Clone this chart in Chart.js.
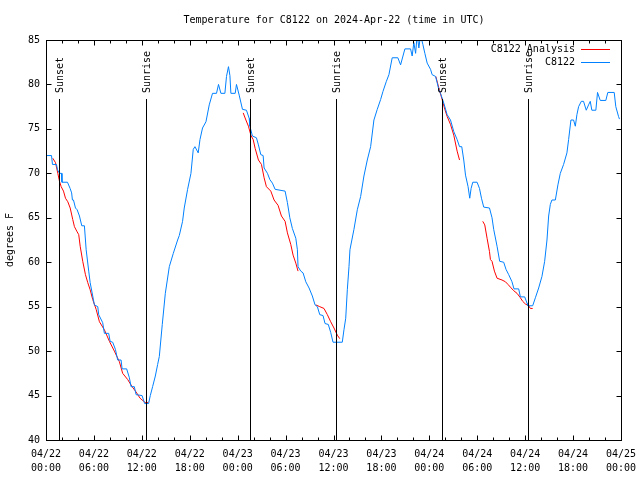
<!DOCTYPE html>
<html>
<head>
<meta charset="utf-8">
<script src="https://cdn.jsdelivr.net/npm/chart.js@4.4.1/dist/chart.umd.min.js"></script>
<style>
html,body{margin:0;padding:0;background:#fff;}
#wrap{width:640px;height:480px;position:relative;}
</style>
</head>
<body>
<div id="wrap"><canvas id="c" width="640" height="480"></canvas></div>
<script>
// ---------- data ----------
const titleText = "Temperature for C8122 on 2024-Apr-22 (time in UTC)";
const yAxisLabel = "degrees F";
const seriesNames = ["C8122 Analysis", "C8122"];
const xTickDates = ["04/22","04/22","04/22","04/22","04/23","04/23","04/23","04/23","04/24","04/24","04/24","04/24","04/25"];
const xTickTimes = ["00:00","06:00","12:00","18:00","00:00","06:00","12:00","18:00","00:00","06:00","12:00","18:00","00:00"];
const yTicks = [40,45,50,55,60,65,70,75,80,85];

// hours since 04/22 00:00 UTC
const obsHours = [0.06,0.69,0.81,1.31,1.44,1.69,1.94,2.0,2.69,3.02,3.21,3.31,3.44,3.69,3.9,4.19,4.48,4.81,5.03,5.35,5.53,5.85,6.06,6.48,6.6,7.1,7.31,7.85,8.03,8.35,8.69,8.98,9.4,9.53,10.1,10.44,10.65,11.06,11.28,12.03,12.35,12.85,13.06,13.35,13.69,13.98,14.19,14.56,14.94,15.44,15.94,16.48,16.69,17.1,17.31,17.73,18.15,18.44,18.65,19.06,19.28,19.6,20.03,20.44,20.85,21.35,21.6,21.9,22.4,22.6,22.85,23.03,23.15,23.69,23.85,24.19,24.6,25.1,25.44,25.53,25.85,26.35,26.6,26.9,27.19,27.31,27.73,28.03,28.35,28.69,29.94,30.23,30.53,30.85,31.28,31.48,31.56,31.9,32.19,32.53,32.94,33.35,33.69,33.98,34.28,34.69,34.94,35.35,35.65,35.94,37.1,37.31,37.53,37.73,37.94,38.06,38.56,38.98,39.4,39.81,40.23,40.65,41.06,41.48,41.9,42.19,42.6,42.94,43.35,44.06,44.4,44.94,45.65,45.85,46.06,46.28,46.48,46.69,46.9,47.19,47.44,47.73,48.15,48.35,48.78,48.98,49.19,49.4,49.81,50.23,50.65,51.06,51.48,51.78,52.06,52.31,52.53,52.85,53.06,53.23,53.44,53.98,54.28,54.53,54.81,55.53,55.85,56.06,56.48,56.81,57.31,57.6,57.94,58.35,58.6,59.19,59.4,59.94,60.23,60.35,60.94,61.28,61.69,62.1,62.44,62.73,62.94,63.15,63.35,63.78,64.1,64.4,64.81,65.23,65.44,65.73,66.06,66.28,66.48,66.69,67.03,67.31,67.65,67.94,68.15,68.35,68.85,69.06,69.4,70.1,70.35,71.15,71.35,71.69,71.81];
const obsTemps = [72,72,71,71,70.4,70,70,69,69,68.3,67.8,67,67,66.1,65.9,65.2,64.1,64.1,61.4,59,57.7,56.2,55.2,55,54.1,53.2,52,52,51.1,51,50.2,49,49,48,48,47,46,46,45.1,45,44.1,44.1,45,46,47.2,48.5,49.4,53,56.5,59.5,61,62.5,63,64.6,66.1,68.2,70,72.7,73,72.3,73.8,75.1,75.8,77.7,79,79,80,79,79,80.9,82,81,79,79,80,78.8,77.2,77.1,76.2,75.3,74.2,74,73.2,72.1,72,70.6,70,69.3,68.9,68.2,68,66.7,65,63.8,62.7,61.4,59.5,59,58.8,57.8,57.1,56.2,55.2,55,54.1,54,53.1,53,52.1,51,51,52.4,53.7,56.9,59.5,61.4,63.7,65.9,67.4,69.7,71.5,73,76,77.2,78.3,79.2,80.3,81.1,83,83,82.2,84,84,83.2,84.7,83.5,85.6,84.1,85.6,84.5,83.5,82.4,81.7,81.1,80.9,80.2,79.4,79,77.9,76.6,76,74.7,73.8,73,73,71.5,69.8,68.5,67.2,68.3,69,69,68.3,67.2,66.2,66.1,65,63.7,61.8,60.1,60,59.2,58.6,57.8,57,57,56.1,56.1,55.4,55.1,55.1,56,57.1,58.4,60.1,62.5,65.2,66.5,67,67,68.7,70,71,72.3,73.8,76,76,75.3,76.6,77.5,78.1,78.1,77.1,77.7,78.1,77.1,77.1,79.1,78.2,78.2,79.1,79.1,77.5,76.4,76.1];

// analysis (null = gap between runs)
const anaHours = [0.85,1.19,1.48,1.69,1.9,2.19,2.44,2.73,3.03,3.35,3.56,3.85,4.1,4.28,4.6,4.94,5.23,5.53,5.85,6.28,6.69,7.31,7.94,8.56,9.19,9.6,10.23,10.78,11.28,11.78,12.31,12.6,12.81,
  18,
  24.69,25.03,25.35,25.65,25.94,26.19,26.6,26.98,27.31,27.6,28.15,28.56,29.06,29.48,29.94,30.23,30.65,30.94,31.28,31.56,
  32.7,
  33.78,34.28,34.81,35.23,35.65,36.06,36.48,36.78,
  42,
  48.81,49.19,49.6,49.94,50.23,50.65,51.06,51.48,51.78,
  53,
  54.69,54.94,55.23,55.53,55.65,55.85,56.15,56.48,57.1,57.53,57.85,58.15,58.56,58.98,59.4,59.69,60.03,60.44,60.65,60.94];
const anaTemps = [71.7,71.2,70,69.1,68.5,68,67.2,66.8,66.1,64.8,64,63.5,63.1,61.8,60.1,58.6,57.7,56.9,55.8,54.7,53.3,52.4,51.1,50,48.8,47.5,46.8,46,45.4,44.7,44.3,44.1,44.3,
  null,
  76.8,76,75.3,74.3,73.8,72.8,71.5,71,69.5,68.5,68,67,66.4,65.2,64.6,63.3,62,60.8,59.9,59,
  null,
  55.2,55,54.8,54.1,53.3,52.6,51.8,51.4,
  null,
  80.9,79.6,78.3,77.2,76.4,75.5,74.3,72.5,71.5,
  null,
  64.6,64.2,62.7,61.2,60.3,60.1,59,58.2,58,57.8,57.5,57.2,56.8,56.5,56,55.6,55.3,55.1,54.8,54.8];

const sunHours = [1.6, 12.48, 25.6, 36.35, 49.6, 60.35];
const sunLabels = ["Sunset","Sunrise","Sunset","Sunrise","Sunset","Sunrise"];

// ---------- styling ----------
const FONT = '"DejaVu Sans Mono", "Liberation Mono", monospace';
const RED = '#ff0000';
const BLUE = '#0080ff';

const overlay = {
  id: 'overlay',
  afterDatasetsDraw(chart) {
    const {ctx, chartArea: a, scales: {x, y}} = chart;
    ctx.save();
    ctx.strokeStyle = '#000';
    ctx.lineWidth = 1;
    // frame
    const L = Math.round(a.left), T = Math.round(a.top), R = Math.round(a.right), B = Math.round(a.bottom);
    ctx.strokeRect(L + 0.5, T + 0.5, R - L, B - T);
    ctx.beginPath();
    // x ticks (major every 6 h, minor every 2 h), mirrored top
    for (let h = 2; h < 72; h += 2) {
      const px = Math.round(x.getPixelForValue(h)) + 0.5;
      const len = (h % 6 === 0) ? 5 : 3;
      ctx.moveTo(px, B + 0.5); ctx.lineTo(px, B + 0.5 - len);
      ctx.moveTo(px, T + 0.5); ctx.lineTo(px, T + 0.5 + len);
    }
    // y ticks, mirrored right
    for (const v of yTicks) {
      if (v === yTicks[0] || v === yTicks[yTicks.length - 1]) continue;
      const py = Math.round(y.getPixelForValue(v)) + 0.5;
      ctx.moveTo(L + 0.5, py); ctx.lineTo(L + 0.5 + 5, py);
      ctx.moveTo(R + 0.5, py); ctx.lineTo(R + 0.5 - 5, py);
    }
    ctx.stroke();
    // sunrise / sunset lines
    ctx.beginPath();
    sunHours.forEach(h => {
      const px = Math.round(x.getPixelForValue(h)) + 0.5;
      ctx.moveTo(px, 99); ctx.lineTo(px, B);
    });
    ctx.stroke();
    ctx.fillStyle = '#000';
    ctx.font = '10px ' + FONT;
    ctx.textAlign = 'left';
    ctx.textBaseline = 'middle';
    sunHours.forEach((h, i) => {
      const px = Math.round(x.getPixelForValue(h)) + 1;
      ctx.save();
      ctx.translate(px, 93);
      ctx.rotate(-Math.PI / 2);
      ctx.fillText(sunLabels[i], 0, 0);
      ctx.restore();
    });
    // title
    ctx.textAlign = 'center';
    ctx.fillText(titleText, 334, 20);
    // legend
    ctx.textAlign = 'right';
    const cols = [RED, BLUE];
    seriesNames.forEach((n, i) => {
      const yy = 49 + i * 13;
      ctx.fillStyle = '#000';
      ctx.fillText(n, 575, yy);
      ctx.strokeStyle = cols[i];
      ctx.beginPath();
      ctx.moveTo(581, yy + 0.5); ctx.lineTo(610, yy + 0.5);
      ctx.stroke();
    });
    ctx.restore();
  }
};

const obsData = obsHours.map((h, i) => ({x: h, y: obsTemps[i]}));
const anaData = anaHours.map((h, i) => ({x: h, y: anaTemps[i]}));

new Chart(document.getElementById('c'), {
  type: 'line',
  data: {
    datasets: [
      {label: seriesNames[1], data: obsData, borderColor: BLUE, borderWidth: 1, pointRadius: 0, tension: 0, fill: false, order: 0},
      {label: seriesNames[0], data: anaData, borderColor: RED, borderWidth: 1, pointRadius: 0, tension: 0, fill: false, spanGaps: false, order: 1}
    ]
  },
  options: {
    responsive: false,
    animation: false,
    devicePixelRatio: 1,
    layout: {padding: {top: 40, right: 19, left: 0, bottom: 0}},
    plugins: {legend: {display: false}, title: {display: false}, tooltip: {enabled: false}},
    scales: {
      x: {
        type: 'linear', min: 0, max: 72,
        grid: {display: true, drawOnChartArea: false, drawTicks: true, tickLength: 7, color: 'rgba(0,0,0,0)'},
        border: {display: false},
        ticks: {
          stepSize: 6, autoSkip: false, maxRotation: 0, padding: 0,
          color: '#000', font: {family: FONT, size: 10, lineHeight: 1.4},
          callback: (v) => { const i = Math.round(v / 6); return [xTickDates[i], xTickTimes[i]]; }
        },
        afterFit: (s) => { s.height = 40; }
      },
      y: {
        min: 40, max: 85,
        grid: {display: false, drawTicks: false},
        border: {display: false},
        ticks: {stepSize: 5, padding: 6, color: '#000', font: {family: FONT, size: 10},
          callback: (v) => yTicks.includes(v) ? String(v) : ''},
        title: {display: true, text: yAxisLabel, color: '#000', font: {family: FONT, size: 10}, padding: 4},
        afterFit: (s) => { s.width = 46; }
      }
    }
  },
  plugins: [overlay]
});
</script>
</body>
</html>
